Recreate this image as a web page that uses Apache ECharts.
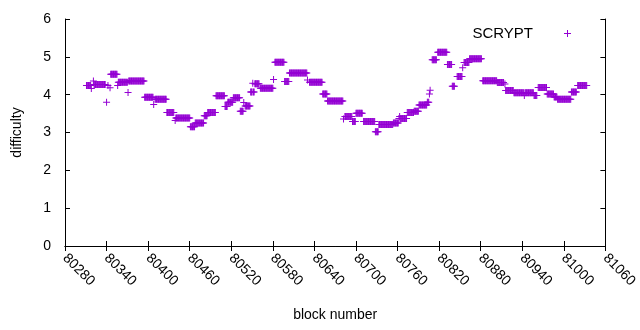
<!DOCTYPE html>
<html>
<head>
<meta charset="utf-8">
<script src="https://cdn.jsdelivr.net/npm/echarts@6/dist/echarts.min.js"></script>
<style>
  html, body { margin: 0; padding: 0; background: #fff; }
  #main { width: 640px; height: 330px; }
</style>
</head>
<body>
<div id="main"></div>
<script>
// runs of blocks sharing one difficulty (first block, last block, difficulty)
const runFrom = [80311, 80322, 80346, 80357, 80372, 80395, 80410, 80427, 80440, 80461,
                 80468, 80481, 80486, 80498, 80511, 80515, 80523, 80533, 80540, 80548,
                 80554, 80562, 80583, 80597, 80604, 80633, 80652, 80659, 80684, 80695,
                 80700, 80711, 80728, 80733, 80754, 80762, 80774, 80784, 80791, 80803,
                 80810, 80818, 80832, 80839, 80846, 80856, 80864, 80883, 80904, 80916,
                 80928, 80957, 80963, 80976, 80986, 80991, 81011, 81020];
const runTo   = [80317, 80338, 80355, 80370, 80394, 80407, 80426, 80437, 80460, 80467,
                 80480, 80485, 80497, 80510, 80514, 80522, 80532, 80537, 80547, 80553,
                 80560, 80580, 80596, 80603, 80629, 80651, 80658, 80681, 80694, 80699,
                 80709, 80727, 80732, 80753, 80761, 80773, 80783, 80790, 80802, 80806,
                 80816, 80831, 80838, 80842, 80853, 80863, 80881, 80903, 80913, 80927,
                 80956, 80961, 80975, 80985, 80990, 81010, 81018, 81033];
const runDiff = [4.24, 4.27, 4.54, 4.33, 4.36, 3.93, 3.88, 3.53, 3.38, 3.15,
                 3.25, 3.44, 3.53, 3.97, 3.69, 3.80, 3.92, 3.56, 3.70, 4.07,
                 4.29, 4.17, 4.86, 4.35, 4.57, 4.33, 4.02, 3.83, 3.42, 3.29,
                 3.51, 3.29, 3.02, 3.21, 3.25, 3.37, 3.53, 3.56, 3.73, 3.80,
                 4.92, 5.12, 4.80, 4.22, 4.48, 4.85, 4.95, 4.37, 4.32, 4.11,
                 4.05, 3.98, 4.19, 4.02, 3.94, 3.88, 4.07, 4.24];

// single blocks off their run
const oddBlock = [80318, 80321, 80340, 80342, 80345, 80356, 80371, 80408, 80439, 80538,
                  80551, 80581, 80630, 80682, 80763, 80806, 80807, 80854, 80915, 80943];
const oddDiff  = [4.16, 4.36, 3.80, 4.24, 4.18, 4.24, 4.06, 3.74, 3.32, 3.79,
                  4.30, 4.40, 4.39, 3.36, 3.42, 4.02, 4.12, 4.71, 4.28, 3.98];

const xMin = 80280, xMax = 81060, xStep = 60;
const yMin = 0, yMax = 6, yStep = 1;

const plus = 'path://M3,0L4,0L4,3L7,3L7,4L4,4L4,7L3,7L3,4L0,4L0,3L3,3Z';
const purple = '#9400d3';
const font = 'Liberation Sans, Arial, sans-serif';

// block -> difficulty
let byBlock = {};
runFrom.forEach(function (b, i) {
  for (let k = b; k <= runTo[i]; k++) byBlock[k] = runDiff[i];
});
oddBlock.forEach(function (b, i) { byBlock[b] = oddDiff[i]; });
let points = Object.keys(byBlock).map(function (k) { return [Number(k), byBlock[k]]; });

const chart = echarts.init(document.getElementById('main'), null, { renderer: 'canvas' });

const tick = { show: true, inside: true, length: 5, lineStyle: { color: '#000', width: 1 } };
const line = { show: true, lineStyle: { color: '#000', width: 1 } };

chart.setOption({
  animation: false,
  backgroundColor: '#fff',
  textStyle: { fontFamily: font },
  grid: { left: 65, right: 31, top: 19, bottom: 84, containLabel: false },
  legend: {
    data: [{ name: 'SCRYPT', icon: plus }],
    align: 'right',
    right: 64,
    top: 21,
    itemWidth: 59,
    itemHeight: 7,
    symbolKeepAspect: true,
    itemStyle: { color: purple, borderWidth: 0, borderColor: purple },
    textStyle: { fontSize: 15, color: '#000', fontFamily: font }
  },
  xAxis: [
    {
      type: 'value', min: xMin, max: xMax, interval: xStep,
      name: 'block number', nameLocation: 'middle', nameGap: 62,
      nameTextStyle: { fontSize: 14, color: '#000', fontFamily: font },
      axisLine: line, axisTick: tick, splitLine: { show: false },
      axisLabel: {
        rotate: -45, margin: 10, fontSize: 14, color: '#000', fontFamily: font,
        formatter: function (v) { return String(v); }
      }
    },
    {
      type: 'value', min: xMin, max: xMax, interval: xStep, position: 'top',
      axisLine: line, axisTick: tick, splitLine: { show: false },
      axisLabel: { show: false }
    }
  ],
  yAxis: [
    {
      type: 'value', min: yMin, max: yMax, interval: yStep,
      name: 'difficulty', nameLocation: 'middle', nameGap: 41,
      nameTextStyle: { fontSize: 14, color: '#000', fontFamily: font },
      axisLine: line, axisTick: tick, splitLine: { show: false },
      axisLabel: { margin: 14, fontSize: 14, color: '#000', fontFamily: font }
    },
    {
      type: 'value', min: yMin, max: yMax, interval: yStep, position: 'right',
      axisLine: line, axisTick: tick, splitLine: { show: false },
      axisLabel: { show: false }
    }
  ],
  series: [{
    name: 'SCRYPT',
    type: 'scatter',
    symbol: plus,
    symbolSize: 7,
    itemStyle: { color: purple, opacity: 1, borderWidth: 0 },
    emphasis: { disabled: true },
    data: points
  }]
});
</script>
</body>
</html>
